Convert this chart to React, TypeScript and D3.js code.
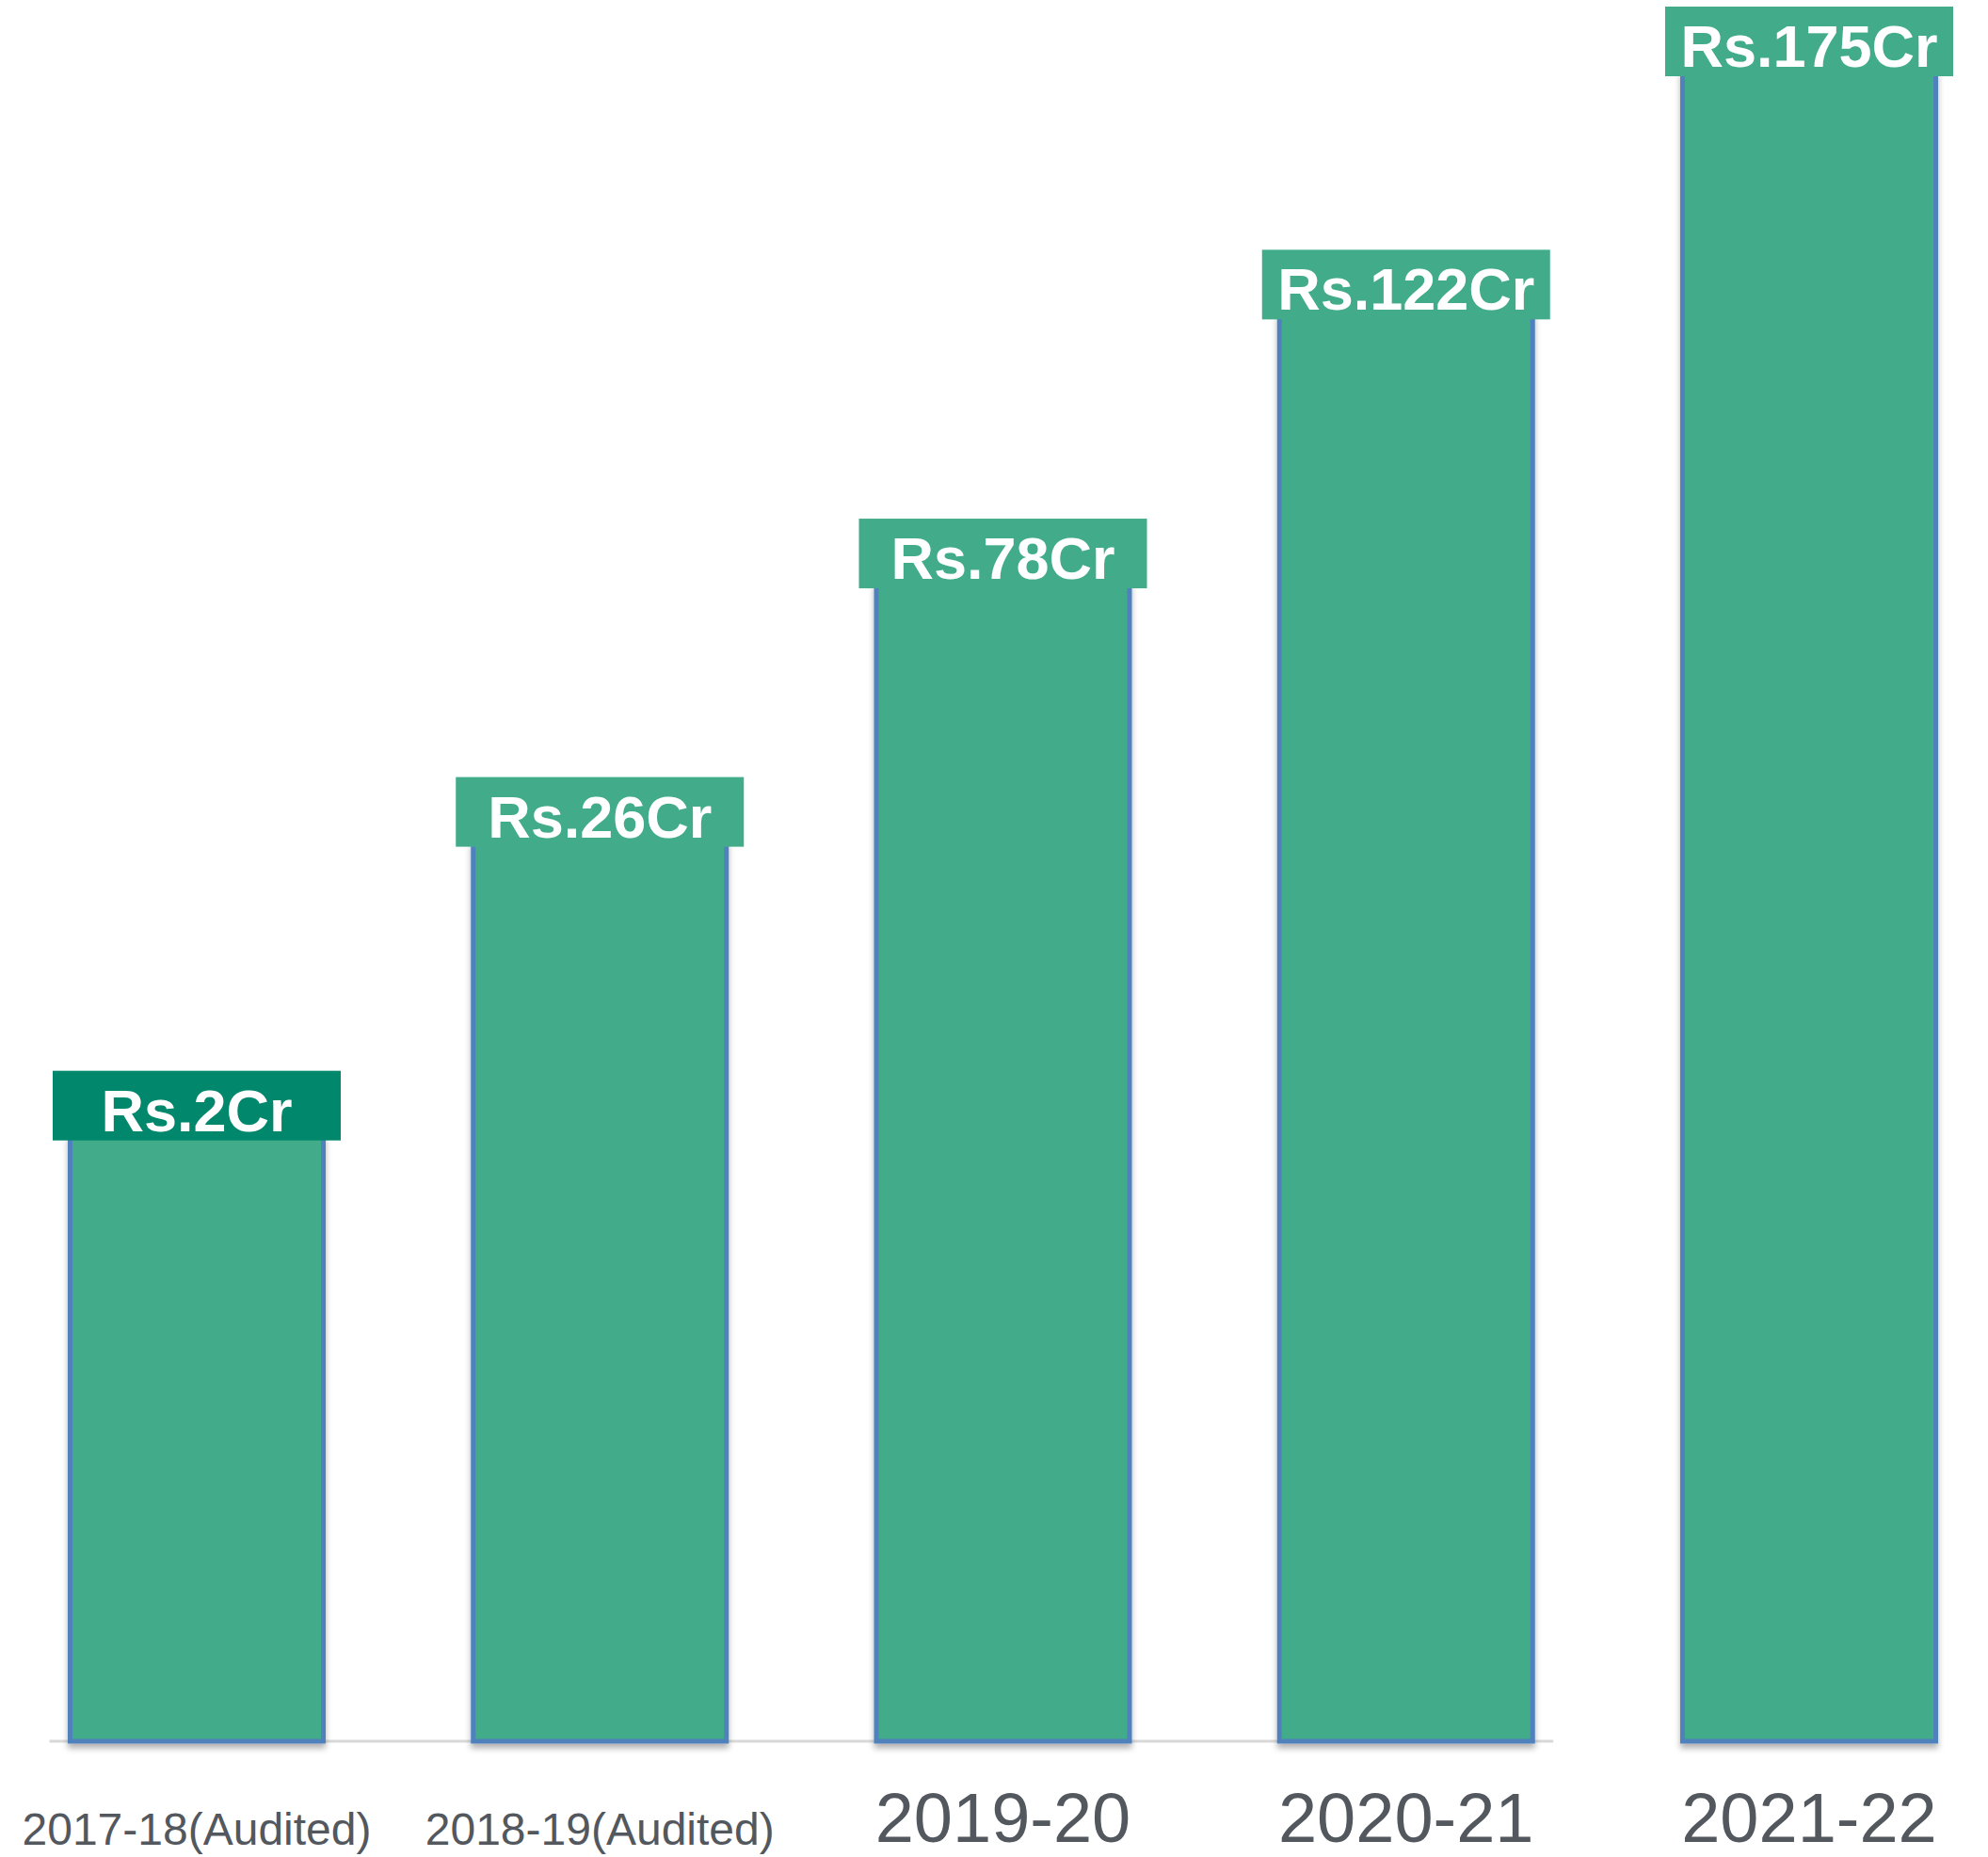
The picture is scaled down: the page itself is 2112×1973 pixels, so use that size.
import { useEffect, useRef } from "react"
import * as d3 from "d3"

// Financial years on the x axis
const years = ["2017-18(Audited)", "2018-19(Audited)", "2019-20", "2020-21", "2021-22"]
// Revenue shown in the label boxes (Rs. crore)
const revenue = [2, 26, 78, 122, 175]
// Bar heights as drawn in the picture (not to scale with the labels)
const barHeights = [63.4, 94.2, 121.3, 149.5, 175]
// Audited years get the small tick label
const audited = [true, true, false, false, false]

const W = 2112
const H = 1973

export default function App() {
  const svgRef = useRef<SVGSVGElement>(null)

  useEffect(() => {
    document.body.style.margin = "0"
    if (!svgRef.current) return
    const svg = d3.select(svgRef.current)
    svg.selectAll("*").remove()

    const baseline = 1850
    const barWidth = 269

    const x = d3.scalePoint<string>().domain(years).range([209, 1922])
    const y = d3.scaleLinear().domain([0, 175]).range([baseline, 77])

    // soft shadow under the bars
    const defs = svg.append("defs")
    defs
      .append("filter")
      .attr("id", "shadow")
      .attr("x", "-10%")
      .attr("y", "-10%")
      .attr("width", "120%")
      .attr("height", "120%")
      .append("feDropShadow")
      .attr("dx", 0)
      .attr("dy", 5)
      .attr("stdDeviation", 3)
      .attr("flood-color", "#000")
      .attr("flood-opacity", 0.3)

    // axis line (stops before the last bar, as in the original)
    svg
      .append("line")
      .attr("x1", (x(years[0]) as number) - barWidth / 2 - 22)
      .attr("x2", (x(years[3]) as number) + barWidth / 2 + 22)
      .attr("y1", baseline)
      .attr("y2", baseline)
      .attr("stroke", "#d9d9d9")
      .attr("stroke-width", 3)

    // bars
    svg
      .selectAll(".bar")
      .data(barHeights)
      .enter()
      .append("rect")
      .attr("class", "bar")
      .attr("x", (d, i) => (x(years[i]) as number) - barWidth / 2)
      .attr("y", (d) => y(d))
      .attr("width", barWidth)
      .attr("height", (d) => y(0) - y(d))
      .attr("fill", "#42ac8a")
      .attr("stroke", "#4f81bd")
      .attr("stroke-width", 5)
      .attr("filter", "url(#shadow)")

    // value label boxes
    const labels = svg
      .selectAll(".value")
      .data(revenue)
      .enter()
      .append("g")
      .attr("class", "value")

    labels
      .append("rect")
      .attr("x", (d, i) => (x(years[i]) as number) - (barWidth + 37) / 2)
      .attr("y", (d, i) => y(barHeights[i]) - 70)
      .attr("width", barWidth + 37)
      .attr("height", 74)
      .attr("fill", (d, i) => (i === 0 ? "#00876c" : "#42ac8a"))

    labels
      .append("text")
      .attr("x", (d, i) => x(years[i]) as number)
      .attr("y", (d, i) => y(barHeights[i]) - 6)
      .attr("text-anchor", "middle")
      .attr("fill", "white")
      .style("font-family", "'Liberation Sans', Arial, sans-serif")
      .style("font-weight", "bold")
      .style("font-size", "63px")
      .text((d) => `Rs.${d}Cr`)

    // x tick labels
    svg
      .selectAll(".tick-label")
      .data(years)
      .enter()
      .append("text")
      .attr("class", "tick-label")
      .attr("x", (d) => x(d) as number)
      .attr("y", (d, i) => (audited[i] ? 1960 : 1957))
      .attr("text-anchor", "middle")
      .attr("fill", "#53585f")
      .style("font-family", "'Liberation Sans', Arial, sans-serif")
      .style("font-size", (d, i) => (audited[i] ? "48px" : "74px"))
      .text((d) => d)
  }, [])

  return <svg ref={svgRef} width={W} height={H} style={{ display: "block", background: "white" }} />
}
